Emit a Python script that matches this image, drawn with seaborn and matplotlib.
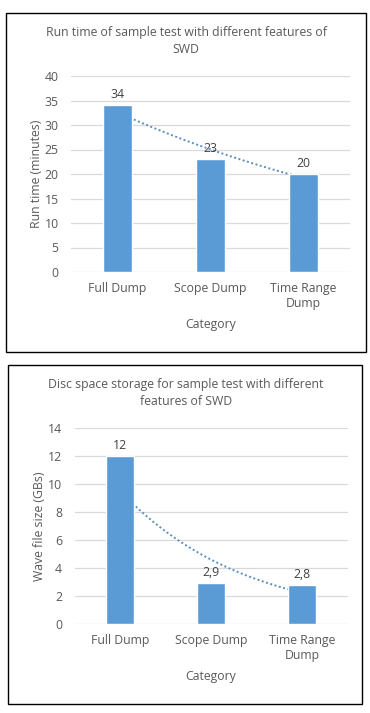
import seaborn as sns
import matplotlib.pyplot as plt
import matplotlib.patches as mpatches
import pandas as pd
import numpy as np

# data
categories = ["Full Dump", "Scope Dump", "Time Range\nDump"]
run_time = [34, 23, 20]
disc_space = [12, 2.9, 2.8]
run_labels = ["34", "23", "20"]
disc_labels = ["12", "2,9", "2,8"]

sns.set_style("white")
plt.rcParams['font.family'] = ['Open Sans', 'DejaVu Sans']

BLUE = "#5B9BD5"
TXT = "#595959"
GRID = "#D9D9D9"

fig = plt.figure(figsize=(3.7, 7.13), dpi=100)
W, H = 370, 713


def px_axes(x0, y0, x1, y1):
    return fig.add_axes([x0 / W, (H - y1) / H, (x1 - x0) / W, (y1 - y0) / H])


def draw_chart(ax, values, labels, ymax, ystep, ylabel):
    df = pd.DataFrame({"Category": categories, "value": values})
    sns.barplot(data=df, x="Category", y="value", color=BLUE, width=0.31,
                saturation=1, ax=ax, zorder=3)
    # exponential trendline like Excel, drawn behind the bars
    xs = np.arange(len(values))
    b, a = np.polyfit(xs, np.log(values), 1)
    xx = np.linspace(0, len(values) - 1, 100)
    ax.plot(xx, np.exp(a + b * xx), ls=(0, (1, 1.3)), color="#5B8FC0", lw=1.4, zorder=2)
    for x, v, t in zip(xs, values, labels):
        ax.annotate(t, (x, v), xytext=(0, 3), textcoords="offset points",
                    ha="center", va="bottom", fontsize=8.8, color="#404040")
    ax.set_xlim(-0.5, len(values) - 0.5)
    ax.set_ylim(0, ymax)
    ax.set_yticks(np.arange(0, ymax + 0.1, ystep))
    ax.yaxis.grid(True, color=GRID, lw=0.9, zorder=0)
    ax.set_axisbelow(True)
    for s in ax.spines.values():
        s.set_visible(False)
    ax.tick_params(axis="both", length=0, colors=TXT, labelsize=8.8)
    ax.tick_params(axis="x", pad=7)
    ax.tick_params(axis="y", pad=9)
    ax.set_xlabel("Category", color=TXT, fontsize=8.8, labelpad=6)
    ax.set_ylabel(ylabel, color=TXT, fontsize=8.8, labelpad=1)


ax1 = px_axes(71, 76, 350, 272)
draw_chart(ax1, run_time, run_labels, 40, 5, "Run time (minutes)")
ax2 = px_axes(74.5, 428, 347.5, 624)
draw_chart(ax2, disc_space, disc_labels, 14, 2, "Wave file size (GBs)")

fig.text(186 / W, 1 - 41 / H, "Run time of sample test with different features of\nSWD",
         ha="center", va="center", fontsize=8.8, color=TXT, linespacing=1.45)
fig.text(186 / W, 1 - 393 / H, "Disc space storage for sample test with different\nfeatures of SWD",
         ha="center", va="center", fontsize=8.8, color=TXT, linespacing=1.45)

# black frames around each chart
for x0, y0, x1, y1 in [(6, 13, 366, 352), (8, 365, 362, 704)]:
    fig.patches.append(mpatches.Rectangle((x0 / W, (H - y1) / H), (x1 - x0) / W, (y1 - y0) / H,
                                          transform=fig.transFigure, fill=False,
                                          edgecolor="black", lw=1.0))

fig.savefig("out.png", dpi=100)
